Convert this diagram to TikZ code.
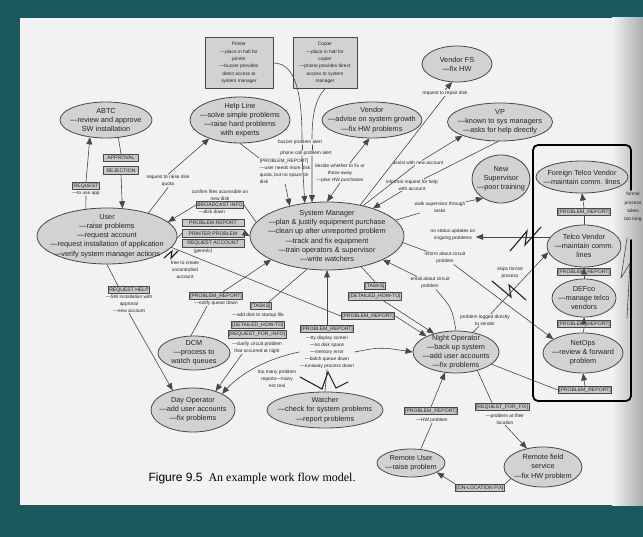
\documentclass[tikz,border=0pt]{standalone}
\usepackage{fontspec}
\setmainfont{Liberation Serif}
\setsansfont{Liberation Sans}
\usetikzlibrary{arrows,shapes.geometric,positioning}
\definecolor{frame}{RGB}{27,90,92}
\definecolor{paper}{RGB}{242,242,242}
\definecolor{bubble}{RGB}{210,210,210}
\definecolor{edge}{RGB}{72,72,72}
\definecolor{ink}{RGB}{35,35,35}
\definecolor{tagfill}{RGB}{200,200,200}

\tikzset{
  actor/.style={ellipse, draw=edge, fill=bubble, line width=0.8pt, inner sep=0pt},
  ptext/.style={font=\sffamily\fontsize{7.3}{9.2}\selectfont, align=center, text=ink},
  tag/.style={draw=edge, fill=tagfill, line width=0.8pt, inner sep=1pt, minimum height=7.5pt,
    font=\sffamily\fontsize{5.1}{5.5}\selectfont, text=ink},
  note/.style={font=\sffamily\fontsize{4.8}{7}\selectfont, align=center, inner sep=0.6pt, text=ink},
  device/.style={draw=edge, fill=bubble, line width=0.9pt, minimum width=68pt, minimum height=51pt,
    align=center, font=\sffamily\fontsize{4.8}{7.3}\selectfont, text=ink},
  flow/.style={draw=edge, line width=0.6pt},
  brk/.style={draw=ink, line width=1.1pt, line join=miter},
}

\begin{document}
\begin{tikzpicture}[line cap=round,line join=round,>=triangle 45,x=1pt,y=-1pt]
    \useasboundingbox (0,0) rectangle (643,537);
    \fill[frame] (0,0) rectangle (643,537);
    \fill[paper] (20,18) rectangle (643,505);
    \shade[left color=paper, right color=gray!65] (612,18) rectangle (643,505);

    % people and groups
    \node[actor, minimum width=92pt, minimum height=36pt, label={[ptext]center:{ABTC\\—review and approve\\SW installation}}] (abtc) at (106,120) {};
    \node[actor, minimum width=100pt, minimum height=46pt, label={[ptext]center:{Help Line\\—solve simple problems\\—raise hard problems\\with experts}}] (helpline) at (240,120) {};
    \node[actor, minimum width=100pt, minimum height=36pt, label={[ptext]center:{Vendor\\—advise on system growth\\—fix HW problems}}] (vendor) at (372,120) {};
    \node[actor, minimum width=70pt, minimum height=36pt, label={[ptext]center:{Vendor FS\\—fix HW}}] (vendorfs) at (457,64) {};
    \node[actor, minimum width=105pt, minimum height=38pt, label={[ptext]center:{VP\\—known to sys managers\\—asks for help directly}}] (vp) at (500,122) {};
    \node[actor, minimum width=58pt, minimum height=48pt, label={[ptext]center:{New\\Supervisor\\—poor training}}] (newsup) at (501,179) {};
    \node[actor, minimum width=154pt, minimum height=68pt, label={[ptext]center:{System Manager\\—plan \& justify equipment purchase\\—clean up after unreported problem\\—track and fix equipment\\—train operators \& supervisor\\—write watchers}}] (sysmgr) at (327,236) {};
    \node[actor, minimum width=140pt, minimum height=56pt, label={[ptext]center:{User\\—raise problems\\—request account\\—request installation of application\\—verify system manager actions}}] (user) at (107,236) {};
    \node[actor, minimum width=72pt, minimum height=34pt, label={[ptext]center:{DCM\\—process to\\watch queues}}] (dcm) at (194,353) {};
    \node[actor, minimum width=84pt, minimum height=44pt, label={[ptext]center:{Day Operator\\—add user accounts\\—fix problems}}] (dayop) at (193,410) {};
    \node[actor, minimum width=116pt, minimum height=36pt, label={[ptext]center:{Watcher\\—check for system problems\\—report problems}}] (watcher) at (325,410) {};
    \node[actor, minimum width=86pt, minimum height=42pt, label={[ptext]center:{Night Operator\\—back up system\\—add user accounts\\—fix problems}}] (nightop) at (456,352) {};
    \node[actor, minimum width=68pt, minimum height=28pt, label={[ptext]center:{Remote User\\—raise problem}}] (remuser) at (411,463) {};
    \node[actor, minimum width=78pt, minimum height=40pt, label={[ptext]center:{Remote field\\service\\—fix HW problem}}] (remfield) at (543,467) {};
    \node[actor, minimum width=92pt, minimum height=32pt, label={[ptext]center:{Foreign Telco Vendor\\—maintain comm. lines}}] (ftelco) at (582,177) {};
    \node[actor, minimum width=74pt, minimum height=42pt, label={[ptext]center:{Telco Vendor\\—maintain comm.\\lines}}] (telco) at (584,246) {};
    \node[actor, minimum width=64pt, minimum height=38pt, label={[ptext]center:{DEFco\\—manage telco\\vendors}}] (defco) at (584,298) {};
    \node[actor, minimum width=80pt, minimum height=40pt, label={[ptext]center:{NetOps\\—review \& forward\\problem}}] (netops) at (583,353) {};

    % devices
    \node[device] (printer) at (239,63) {Printer\\—place in hall for\\printer\\—buzzer provides\\direct access to\\system manager};
    \node[device, minimum width=64pt] (copier) at (325,63) {Copier\\—place in hall for\\copier\\—phone provides direct\\access to system\\manager};

    % messages
    \node[tag] (request) at (86,186) {REQUEST};
    \node[note, below=0pt of request] (usenote) {—to use app};
    \node[tag, minimum width=35pt] (approval) at (121,158) {APPROVAL};
    \node[tag, minimum width=35pt, below=4pt of approval] (rejection) {REJECTION};
    \node[tag] (reqhelp) at (129,290) {REQUEST HELP};
    \node[note, below=0pt of reqhelp] (helpwhy) {—SW installation with\\approval\\—new account};
    \node[note] (raisenote) at (168,181) {request to raise disk\\quota};
    \node[tag] (broadcast) at (220,205) {BROADCAST INFO};
    \node[note, above=0pt of broadcast] (confirmnote) {confirm files accessible on\\new disk};
    \node[note, below=0pt of broadcast, xshift=-8pt] (disknote) {—disk down};
    \node[tag, minimum width=62pt] (probrep) at (213,223) {PROBLEM REPORT};
    \node[tag, minimum width=62pt, below=2pt of probrep] (printprob) {PRINTER PROBLEM};
    \node[tag, minimum width=62pt, below=2pt of printprob] (reqacct) {REQUEST ACCOUNT};
    \node[note, below=0pt of reqacct, xshift=-10pt] (generic) {(generic)};
    \node[note, align=left, anchor=north west] (helpnote) at (259,158) {[PROBLEM\_REPORT]\\—user needs more disk\\quota, but no space on\\disk};
    \node[note] (buzzer) at (300,142) {buzzer problem alert};
    \node[note] (phone) at (306,153) {phone call problem alert};
    \node[note] (decide) at (340,173) {decide whether to fix or\\throw away\\—plan HW purchases};
    \node[note] (repair) at (445,93) {request to repair disk};
    \node[note] (assist) at (418,163) {assist with new account};
    \node[note] (informal) at (412,185) {informal request for help\\with account};
    \node[note] (walk) at (440,207) {walk supervisor through\\tasks};
    \node[note] (nostatus) at (453,235) {no status updates on\\ongoing problems};
    \node[note] (inform) at (445,258) {inform about circuit\\problem};
    \node[note] (email) at (430,283) {email about circuit\\problem};
    \node[note] (skips) at (510,273) {skips formal\\process};
    \node[note] (logged) at (485,320) {problem logged directly\\to vendor};
    \node[note] (freeto) at (185,270) {free to create\\uncontrolled\\account};
    \node[tag] (tasksn) at (375,286) {[TASKS]};
    \node[tag, below=2pt of tasksn] (howton) {[DETAILED\_HOW-TO]};
    \node[tag] (prnight) at (368,316) {[PROBLEM\_REPORT]};
    \node[tag] (prdcm) at (216,296) {[PROBLEM\_REPORT]};
    \node[note, below=0pt of prdcm] (queuenote) {—notify queue down};
    \node[tag] (tasksd) at (261,306) {[TASKS]};
    \node[note] (startnote) at (258,315) {—add disk to startup file};
    \node[tag] (howtod) at (258,325) {[DETAILED\_HOW-TO]};
    \node[tag] (reqinfo) at (257,334.5) {[REQUEST\_FOR\_INFO]};
    \node[note] (infonote) at (257,347.5) {—clarify circuit problem\\that occurred at night};
    \node[tag] (prwatch) at (327,329) {[PROBLEM\_REPORT]};
    \node[note] (watchnote) at (327,352) {—tty display screen\\—no disk space\\—memory error\\—batch queue down\\—runaway process down};
    \node[note] (toomany) at (277,379) {too many problem\\reports—many\\not real};
    \node[tag] (prremote) at (431,411) {[PROBLEM\_REPORT]};
    \node[note] (hwnote) at (432,420) {—HW problem};
    \node[tag] (reqfix) at (502,407) {[REQUEST\_FOR\_FIX]};
    \node[note] (fixnote) at (505,419) {—problem at their\\location};
    \node[tag] (onloc) at (480,488) {[ON-LOCATION FIX]};
    \node[tag] (pr1) at (584,212) {[PROBLEM\_REPORT]};
    \node[tag] (pr2) at (584,272) {[PROBLEM\_REPORT]};
    \node[tag] (pr3) at (584,324) {[PROBLEM\_REPORT]};
    \node[tag] (pr4) at (585,390) {[PROBLEM\_REPORT]};
    \node[note, font=\sffamily\fontsize{4.8}{8.4}\selectfont] (formal) at (633,207) {formal\\process\\takes\\too long};

    % connectors
    \draw[flow] (user.128) -- (usenote.south);
    \draw[flow,->] (request.north) -- (abtc.227);
    \draw[flow] (abtc.305) -- (approval.north);
    \draw[flow,->] (rejection.south) -- (user.61);
    \draw[flow] (user.29) -- (raisenote.south);
    \draw[flow,->] (raisenote.north) -- (helpline.211);
    \draw[flow] (sysmgr.169) -- (broadcast.east);
    \draw[flow,->] (broadcast.west) -- (user.13);
    \draw[flow] (user.358) -- (printprob.west);
    \draw[flow,->] (printprob.east) -- (sysmgr.west);
    \draw[flow] (helpline.south) -- (helpnote.north west);
    \draw[flow,->] (helpnote.south) -- (sysmgr.141);
    \draw[flow] (printer.east) .. controls (296,63) and (302,95) .. ([xshift=2pt]buzzer.north);
    \draw[flow] ([xshift=2pt]buzzer.south) -- ([xshift=-4pt]phone.north);
    \draw[flow,->] ([xshift=-4pt]phone.south) -- (sysmgr.124);
    \draw[flow] (copier.south) .. controls (314,100) and (312,120) .. ([xshift=12pt]buzzer.north);
    \draw[flow] ([xshift=12pt]buzzer.south) -- ([xshift=6pt]phone.north);
    \draw[flow,->] ([xshift=6pt]phone.south) -- (sysmgr.114);
    \draw[flow,->] ([xshift=10pt]decide.north) -- (vendor.262);
    \draw[flow,->] (decide.south) -- (sysmgr.north);
    \draw[flow] (sysmgr.43) -- (repair.south);
    \draw[flow,->] (repair.north) -- (vendorfs.255);
    \draw[flow] (sysmgr.40) -- (assist);
    \draw[flow,->] (assist) -- (vp.200);
    \draw[flow] (vp.265) -- (informal);
    \draw[flow,->] (informal) -- (sysmgr.31);
    \draw[flow] (sysmgr.13) -- (walk);
    \draw[flow,->] (walk) -- (newsup.227);
    \draw[flow,->] (telco.165) -- (nostatus.east |- telco.165);
    \draw[brk] (510,251) -- (527,231) -- (525,245) -- (541,227);
    \draw[flow] (sysmgr.355) -- (inform);
    \draw[flow,->] (inform) -- (netops.155);
    \draw[flow] (nightop.49) -- (logged);
    \draw[flow,->] (logged) -- (telco.190);
    \draw[brk] (492,281) -- (511,297) -- (509,285) -- (526,300);
    \draw[flow] (nightop.north) .. controls (452,308) .. ([xshift=6pt]email.south);
    \draw[flow,->] (email) -- (sysmgr.337);
    \draw[flow] (sysmgr.318) -- (tasksn.north);
    \draw[flow,->] ([xshift=8pt]howton.south) -- (nightop.140);
    \draw[flow] (user.350) -- (prnight.west);
    \draw[flow,->] (prnight.east) -- (nightop.152);
    \draw[brk] (164,258) -- (172,251) -- (171,258) -- (178,251);
    \draw[flow] (dcm.100) -- ([xshift=-9pt]queuenote.south);
    \draw[flow,->] ([xshift=7pt]prdcm.north) -- (sysmgr.203);
    \draw[flow] (sysmgr.239) -- ([xshift=8pt]tasksd.north);
    \draw[flow,->] ([xshift=-15pt]infonote.south) -- (dayop.40);
    \draw[flow,->] (prwatch.north) -- (sysmgr.south);
    \draw[flow] (watcher.north) -- (watchnote.south);
    \draw[brk] (300,377) -- (322,389) -- (328,372) -- (336,388) -- (348,382);
    \draw[flow,->] (watchnote.west) .. controls (270,358) and (240,372) .. (dayop.29);
    \draw[flow,->] (watchnote.east) .. controls (380,347) .. (nightop.west);
    \draw[flow] (user.south) -- ([xshift=-11pt]reqhelp.north);
    \draw[flow,->] (helpwhy.south) -- (dayop.136);
    \draw[flow] (remuser.55) -- (hwnote.south);
    \draw[flow,->] (prremote.north) -- (nightop.242);
    \draw[flow] (nightop.319) -- ([xshift=-10pt]reqfix.north);
    \draw[flow,->] (fixnote.south) -- (remfield.131);
    \draw[flow] (remfield.200) -- (onloc.north east);
    \draw[flow,->] (onloc.north west) -- (remuser.340);
    \draw[flow] (nightop.341) -- (pr4.west);
    \draw[flow,->] (pr4.north) -- (netops.south);
    \draw[flow] (netops.north) -- (pr3.south);
    \draw[flow,->] (pr3.north) -- (defco.south);
    \draw[flow] (defco.north) -- (pr2.south);
    \draw[flow,->] (pr2.north) -- (telco.south);
    \draw[flow] (telco.north) -- (pr1.south);
    \draw[flow,->] (pr1.north) -- (ftelco.south);

    % telco group
    \draw[line width=1.8pt, rounded corners=5pt] (631,190) -- (631,145) -- (533,145) -- (533,401) -- (631,401) -- (631,240);
    \draw[flow] (627,238) -- (621,278) -- (630,263) -- (627,318);

    \node[anchor=west, font=\fontsize{12}{14}\selectfont] (caption) at (145,478) {{\sffamily Figure 9.5}\enspace An example work flow model.};
\end{tikzpicture}
\end{document}
